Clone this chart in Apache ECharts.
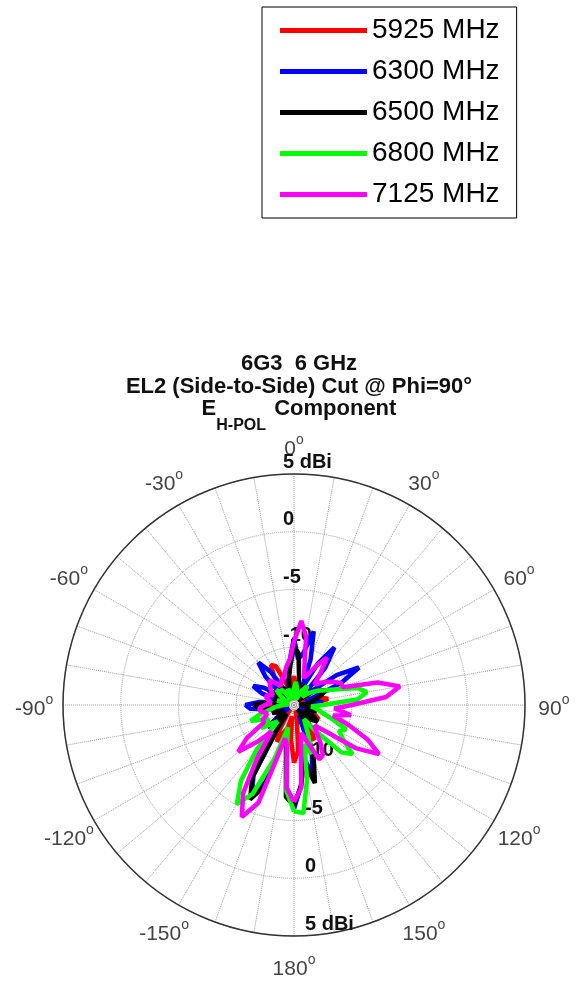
<!DOCTYPE html>
<html>
<head>
<meta charset="utf-8">
<script src="https://cdn.jsdelivr.net/npm/echarts@6/dist/echarts.min.js"></script>
<style>
  html, body { margin: 0; padding: 0; background: #fff; }
  #chart { width: 576px; height: 987px; }
</style>
</head>
<body>
<div id="chart"></div>
<script>
// angles, deg (0 = up, clockwise)
var angles = [-180, -175, -170, -165, -160, -155, -150, -145, -140, -135, -130, -125,
  -120, -115, -110, -105, -100, -95, -90, -85, -80, -75, -70, -65,
  -60, -55, -50, -45, -40, -35, -30, -25, -20, -15, -10, -5,
  0, 5, 10, 15, 20, 25, 30, 35, 40, 45, 50, 55,
  60, 65, 70, 75, 80, 85, 90, 95, 100, 105, 110, 115,
  120, 125, 130, 135, 140, 145, 150, 155, 160, 165, 170, 175, 180];

var freqs = ['5925 MHz', '6300 MHz', '6500 MHz', '6800 MHz', '7125 MHz'];
var colors = ['#ff0000', '#0000ff', '#000000', '#00ff00', '#ff00ff'];

// gain, dBi
var g5925 = [-10, -12, -14, -13, -12.5, -11.5, -12.5, -14, -14.5, -13.5, -12.5, -13.5,
  -14.5, -14, -13, -14, -14.5, -13.5, -12.5, -14, -14.5, -14, -13.5, -14,
  -14.5, -14, -13.5, -14, -13.5, -12, -11, -11.3, -13, -14.5, -14, -13,
  -12.5, -13.5, -14.5, -14, -13.5, -14, -14.5, -13.5, -14, -14.5, -14, -13.5,
  -14, -14.5, -13.5, -12.5, -12, -13, -14, -14.5, -14, -13.5, -14, -13,
  -12.5, -13.5, -14, -13.5, -13, -12.3, -11.5, -12.3, -14, -14.5, -13.5, -11, -10];
var g6300 = [-6, -7.5, -11.5, -12.5, -8, -6.3, -8, -12.5, -14, -13, -12, -13.5,
  -14.5, -14, -13, -13.5, -13, -11.2, -10.8, -12, -14, -13.5, -12, -11.1,
  -12, -14, -13.5, -11.5, -10.2, -11.5, -14, -14.5, -14, -13, -12.5, -11,
  -9.2, -11, -10.5, -8.4, -10.8, -13.5, -10.8, -8.9, -10.8, -14, -13.5, -10.5,
  -8.5, -10.5, -13.5, -14, -13, -12.5, -13.5, -14.5, -14, -13, -13.5, -14.5,
  -13.5, -12.5, -13.5, -14.5, -14, -13, -13.5, -14, -10.5, -8.7, -10.5, -8, -6];
var g6500 = [-6.3, -7, -11, -12.5, -7.5, -6, -7.8, -12.5, -14, -13.5, -13, -13.5,
  -14, -13.5, -13, -13.5, -13, -12, -11.5, -12.5, -13.5, -14, -13.5, -13,
  -12.5, -13.5, -14, -14.5, -13.5, -13, -13.5, -14, -14.5, -13.5, -12.5, -11.5,
  -10, -10.5, -12.5, -13.5, -14, -13.5, -13, -13.5, -14, -14.5, -14, -13,
  -12.5, -12, -12.5, -13, -13.5, -14, -14.5, -14, -13.5, -13, -13.5, -14,
  -13, -12.5, -13, -14, -14.5, -14, -13, -12, -10, -8, -10, -8, -6.3];
var g6800 = [-5.8, -7.5, -11.5, -13, -10, -6.5, -5.1, -7, -10, -13, -12.5, -11.5,
  -12.5, -12, -11, -12, -13, -13.5, -14, -14.5, -14, -13.5, -14, -14.5,
  -14, -13.5, -13, -13.5, -13.2, -13.8, -14.5, -14, -13.5, -14, -14.5, -14,
  -13.5, -13, -13.5, -14, -14.5, -14, -13.5, -13, -13.5, -14, -13.5, -13,
  -12.5, -12, -11, -9.3, -8.6, -9.5, -12.5, -13.5, -13, -12.5, -11.5, -10,
  -10.5, -9.8, -8.4, -9.2, -12, -13.5, -13, -12, -10.5, -11.5, -8.5, -5.6, -5.8];
var g7125 = [-6.6, -7.8, -11.5, -12, -6, -4.3, -6.2, -9.5, -12, -10.5, -8.7, -10,
  -12, -12, -12.5, -12.5, -12, -12, -12.5, -13, -13, -12.5, -12.5, -13,
  -13, -12.5, -12.5, -12, -12.5, -13, -13, -12.5, -12.5, -12, -11.5, -11,
  -9.5, -7.7, -9, -11.5, -12.5, -12, -11, -10, -11.5, -12.5, -12, -11.5,
  -11, -10.5, -10.5, -7.5, -5.7, -7, -10, -11.5, -10, -11.5, -10, -8,
  -6.5, -8.5, -11.5, -12.5, -12, -11, -10, -9.8, -11.5, -12.5, -11.5, -7.8, -6.6];

var gains = [g5925, g6300, g6500, g6800, g7125];

var rMin = -15, rMax = 5, rStep = 5;
var angleTicks = [-150, -120, -90, -60, -30, 0, 30, 60, 90, 120, 150, 180];
var angleLabelR = 7.5;   // label ring, in radius-axis units (just outside the rim)

var chart = echarts.init(document.getElementById('chart'));
var center = [294, 705], radius = 231;
var font = '"Liberation Sans", Arial, sans-serif';

var radiusLabel = function (v) {
  if (v === rMin) return '';
  if (v === rMax) return '5 dBi';
  return String(v);
};

var series = gains.map(function (g, k) {
  return {
    name: freqs[k],
    type: 'line',
    coordinateSystem: 'polar',
    polarIndex: 0,
    symbol: 'none',
    lineStyle: { width: 4.5, color: colors[k] },
    itemStyle: { color: colors[k] },
    data: g.map(function (v, i) { return [v, angles[i]]; })
  };
});

// angle tick labels, centred on a ring just outside the rim
series.push({
  name: 'angle labels',
  type: 'scatter',
  coordinateSystem: 'polar',
  polarIndex: 0,
  clip: false,
  silent: true,
  symbolSize: 1,
  itemStyle: { color: 'rgba(0,0,0,0)' },
  label: {
    show: true,
    position: 'inside',
    offset: [0, 4],
    align: 'center',
    verticalAlign: 'middle',
    formatter: function (p) { return '{n|' + p.value[1] + '}{s|o}'; },
    rich: {
      n: { fontFamily: font, fontSize: 21, color: '#111', lineHeight: 32 },
      s: { fontFamily: font, fontSize: 14, color: '#111', lineHeight: 14, verticalAlign: 'top' }
    }
  },
  data: angleTicks.map(function (a) { return [angleLabelR, a]; })
});

chart.setOption({
  animation: false,
  backgroundColor: '#fff',
  title: {
    left: 294,
    top: 347,
    textAlign: 'center',
    text: '6G3  6 GHz\nEL2 (Side-to-Side) Cut @ Phi=90°\n{e|E}{sub|H-POL}{e| Component}',
    textStyle: {
      fontFamily: font, fontSize: 22, fontWeight: 'bold', color: '#111', lineHeight: 23,
      rich: {
        e: { fontFamily: font, fontSize: 22, fontWeight: 'bold', color: '#111', lineHeight: 23, verticalAlign: 'top' },
        sub: { fontFamily: font, fontSize: 16, fontWeight: 'bold', color: '#111', lineHeight: 14, verticalAlign: 'top', padding: [20, 2, 0, 0] }
      }
    }
  },
  legend: {
    orient: 'vertical',
    left: 262,
    top: 7,
    padding: [3, 17, 3, 18],
    itemGap: 0,
    itemWidth: 87,
    itemHeight: 5,
    icon: 'rect',
    borderColor: '#000',
    borderWidth: 1,
    data: freqs,
    textStyle: { fontFamily: font, fontSize: 28, color: '#000', lineHeight: 41 }
  },
  polar: [
    { center: center, radius: radius },
    { center: center, radius: radius }
  ],
  angleAxis: [{
    polarIndex: 0,
    type: 'value',
    min: -180,
    max: 180,
    interval: 10,
    startAngle: 270,
    clockwise: true,
    axisLine: { lineStyle: { color: '#333', width: 1.5 } },
    axisTick: { show: false },
    axisLabel: { show: false },
    splitLine: { lineStyle: { color: '#9a9a9a', type: 'dotted', width: 1 } }
  }, {
    polarIndex: 1,
    type: 'value',
    min: -180,
    max: 180,
    startAngle: 90,
    show: false
  }],
  radiusAxis: [{
    polarIndex: 0,
    min: rMin,
    max: rMax,
    interval: rStep,
    axisLine: { show: false },
    axisTick: { show: false },
    splitLine: { lineStyle: { color: '#9a9a9a', type: 'dotted', width: 1 } },
    axisLabel: {
      margin: 11,
      align: 'left',
      verticalAlign: 'bottom',
      padding: [0, 0, 2, 0],
      showMaxLabel: true,
      fontFamily: font, fontSize: 20, fontWeight: 'bold', color: '#111',
      formatter: radiusLabel
    }
  }, {
    polarIndex: 1,
    min: rMin,
    max: rMax,
    interval: rStep,
    axisLine: { show: false },
    axisTick: { show: false },
    splitLine: { show: false },
    axisLabel: {
      inside: true,
      margin: 11,
      align: 'left',
      verticalAlign: 'bottom',
      padding: [0, 0, 2, 0],
      showMaxLabel: true,
      fontFamily: font, fontSize: 20, fontWeight: 'bold', color: '#111',
      formatter: radiusLabel
    }
  }],
  series: series
});
</script>
</body>
</html>
